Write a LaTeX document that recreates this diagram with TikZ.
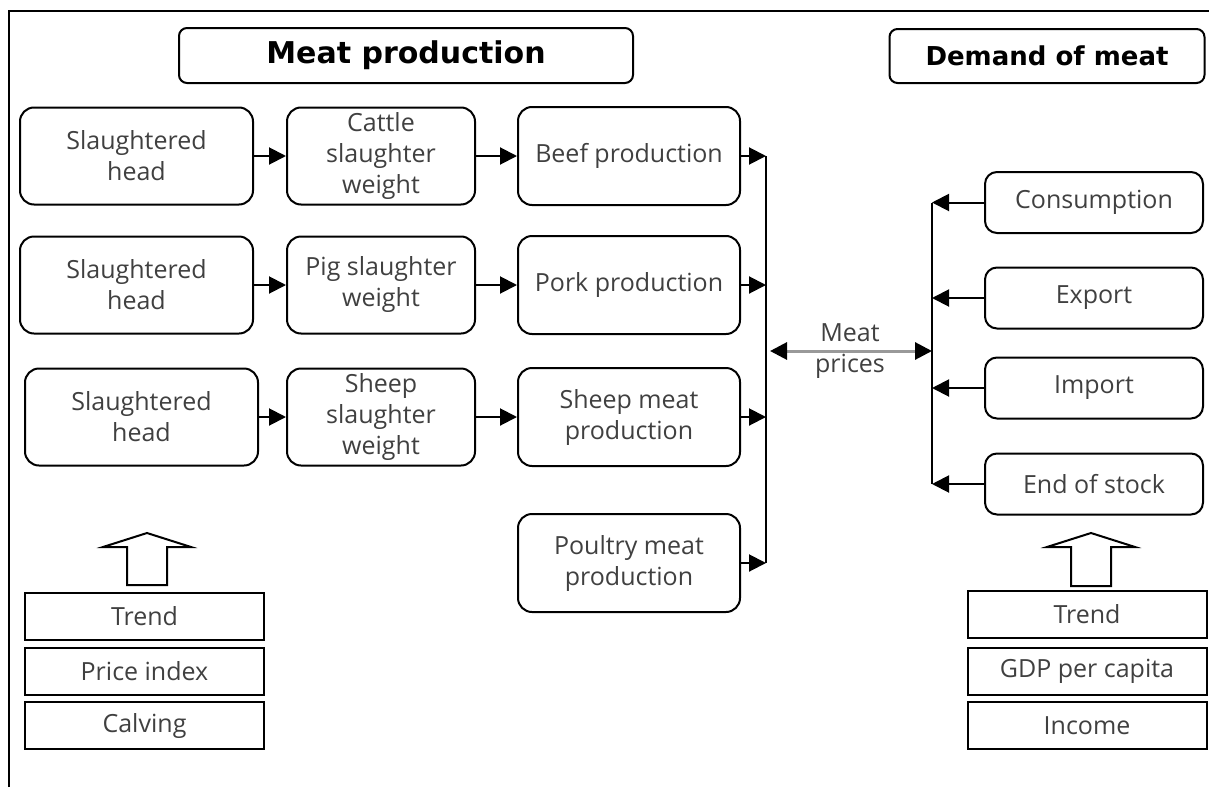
\documentclass[tikz,border=0pt]{standalone}
\usepackage{fontspec}
\setmainfont{Open Sans}
\newfontfamily\headfont{DejaVu Sans}
\usetikzlibrary{arrows.meta}
\tikzset{%
  every box/.style={
    draw,
    line width=1pt,
    rounded corners=7pt,
    align=center,
    inner sep=0pt,
    text=black!75,
    font=\fontsize{12.5}{15.5}\selectfont
  },
  head box/.style={minimum width=116.5pt, minimum height=48.5pt},
  weight box/.style={minimum width=94pt, minimum height=48.5pt},
  prod box/.style={minimum width=111pt, minimum height=49pt},
  demand box/.style={minimum width=109pt, minimum height=30.5pt, rounded corners=6pt},
  driver box/.style={minimum width=119.5pt, minimum height=23.5pt, rounded corners=0pt},
  title box/.style={rounded corners=4pt, text=black,
    font=\headfont\bfseries\fontsize{15}{18}\selectfont},
}

\begin{document}
\begin{tikzpicture}[x=0.5pt, y=-0.5pt, line width=1pt,
    >={Triangle[length=8.5pt,width=8.5pt]}]

        \useasboundingbox (0,0) rectangle (1209,787);

        % frame
        \draw (9,787) -- (9,11) -- (1209,11);

        % titles
        \node [every box, title box, minimum width=227pt, minimum height=27.5pt] (title-prod) at (406,55.5) {Meat production};
        \node [every box, title box, minimum width=157.5pt, minimum height=27pt,
          font=\headfont\bfseries\fontsize{13}{16}\selectfont] (title-dem) at (1047,56) {Demand of meat};

        % production chains
        \foreach \h/\y/\w/\p [count=\i] in {136.5/156/{Cattle\\slaughter\\weight}/{Beef production},
          136.5/285/{Pig slaughter\\weight}/{Pork production},
          141.5/417/{Sheep\\slaughter\\weight}/{Sheep meat\\production}}
        {
        \node [every box, head box] (head-\i) at (\h,\y) {Slaughtered\\head};
        \node [every box, weight box] (weight-\i) at (381,\y) {\w};
        \node [every box, prod box] (prod-\i) at (629,\y) {\p};
        \draw [->] (head-\i) -- (weight-\i);
        \draw [->] (weight-\i) -- (prod-\i);
        }
        \node [every box, prod box] (prod-4) at (629,563) {Poultry meat\\production};

        % supply bus
        \coordinate (bus-l) at (766,0);
        \foreach \i in {1,...,4}
        \draw [->] (prod-\i) -- (prod-\i -| bus-l);
        \draw (prod-1 -| bus-l) -- (prod-4 -| bus-l);

        % demand side
        \coordinate (bus-r) at (932,0);
        \foreach \t/\y [count=\i] in {Consumption/202.5, Export/298, Import/388, End of stock/484}
        {
        \node [every box, demand box] (dem-\i) at (1094,\y) {\t};
        \draw [->] (dem-\i) -- (dem-\i -| bus-r);
        }
        \draw (dem-1 -| bus-r) -- (dem-4 -| bus-r);

        % prices
        \node [every box, draw=none] (prices) at (850,351) {Meat\\prices};
        \draw [<->, gray!80, line width=1.5pt, shorten <=2pt,
          >={Triangle[length=8.5pt,width=8.5pt,color=black]}]
          (prices -| bus-l) -- (prices -| bus-r);

        % drivers
        \foreach \t/\y [count=\i] in {Trend/616.5, Price index/671.5, Calving/725.5}
        \node [every box, driver box] (sup-drv-\i) at (144.5,\y) {\t};

        \foreach \t/\y [count=\i] in {Trend/614.5, GDP per capita/671.5, Income/725.5}
        \node [every box, driver box] (dem-drv-\i) at (1087,\y) {\t};

        % hollow arrows
        \foreach \c/\b in {147/585, 1091/586}
        \draw [line join=miter] (\c-20,\b) -- (\c-20,547) -- (\c-44,547) -- (\c,533)
          -- (\c+44,547) -- (\c+20,547) -- (\c+20,\b) -- cycle;

    \end{tikzpicture}
\end{document}
